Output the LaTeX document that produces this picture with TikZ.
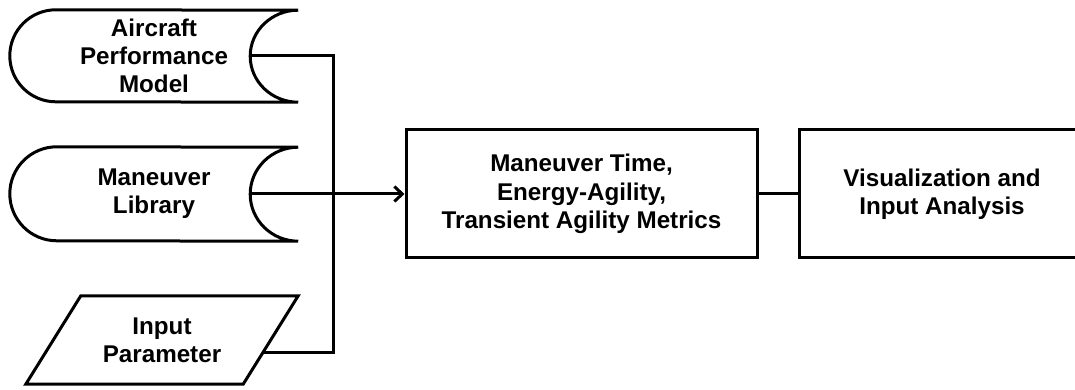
\documentclass[tikz,border=0pt]{standalone}
\usepackage{fontspec}
\setmainfont{Liberation Sans}
\usetikzlibrary{arrows.meta,calc}
\begin{document}
\begin{tikzpicture}[x=1pt,y=1pt,
  boxline/.style={draw=black, line width=3pt, line join=miter},
  txt/.style={font=\fontsize{24.2}{28.2}\selectfont\bfseries, align=center, inner sep=0pt},
  procbox/.style={txt, boxline},
  flowarrow/.style={boxline, -{Straight Barb[length=8pt,width=15pt,line width=3pt]}}]
\useasboundingbox (0,0) rectangle (1075,390);
\clip (0,0) rectangle (1075,390);

% stored-data sources
\node[txt, minimum width=288pt, minimum height=92pt] (apm) at (154,334) {Aircraft\\Performance\\Model};
\node[txt, minimum width=288pt, minimum height=94pt] (ml) at (154,196) {Maneuver\\Library};
\draw[boxline] ([xshift=46pt]apm.north west) arc[start angle=90, end angle=270, radius=46pt]
  -- (apm.south east) arc[start angle=270, end angle=90, x radius=48pt, y radius=46pt] -- cycle;
\draw[boxline] ([xshift=47pt]ml.north west) arc[start angle=90, end angle=270, radius=47pt]
  -- (ml.south east) arc[start angle=270, end angle=90, x radius=48pt, y radius=47pt] -- cycle;
\coordinate (apm-out) at ([xshift=-48pt]apm.east);
\coordinate (ml-out) at ([xshift=-48pt]ml.east);

% input parallelogram
\node[txt, minimum width=217pt, minimum height=88pt] (inp) at (162,50) {Input\\Parameter};
\coordinate (inp-ne) at ([xshift=27.5pt]inp.north east);
\coordinate (inp-se) at ([xshift=-27.5pt]inp.south east);
\draw[boxline] ([xshift=27.5pt]inp.north west) -- (inp-ne) -- (inp-se)
  -- ([xshift=-27.5pt]inp.south west) -- cycle;
\coordinate (inp-out) at ($(inp-ne)!0.636!(inp-se)$);

% processing blocks
\node[procbox, minimum width=351pt, minimum height=128pt] (met) at (581.5,196)
  {Maneuver Time,\\Energy-Agility,\\Transient Agility Metrics};
\node[procbox, minimum width=286pt, minimum height=128pt] (vis) at (942,196)
  {Visualization and\\Input Analysis};

% connectors
\coordinate (bus) at (333,0);
\draw[boxline] (apm-out) -- (apm-out -| bus) -- (bus |- inp-out) -- (inp-out);
\draw[flowarrow] (ml-out) -- (met.west);
\draw[boxline] (met.east) -- (vis.west);
\end{tikzpicture}
\end{document}
